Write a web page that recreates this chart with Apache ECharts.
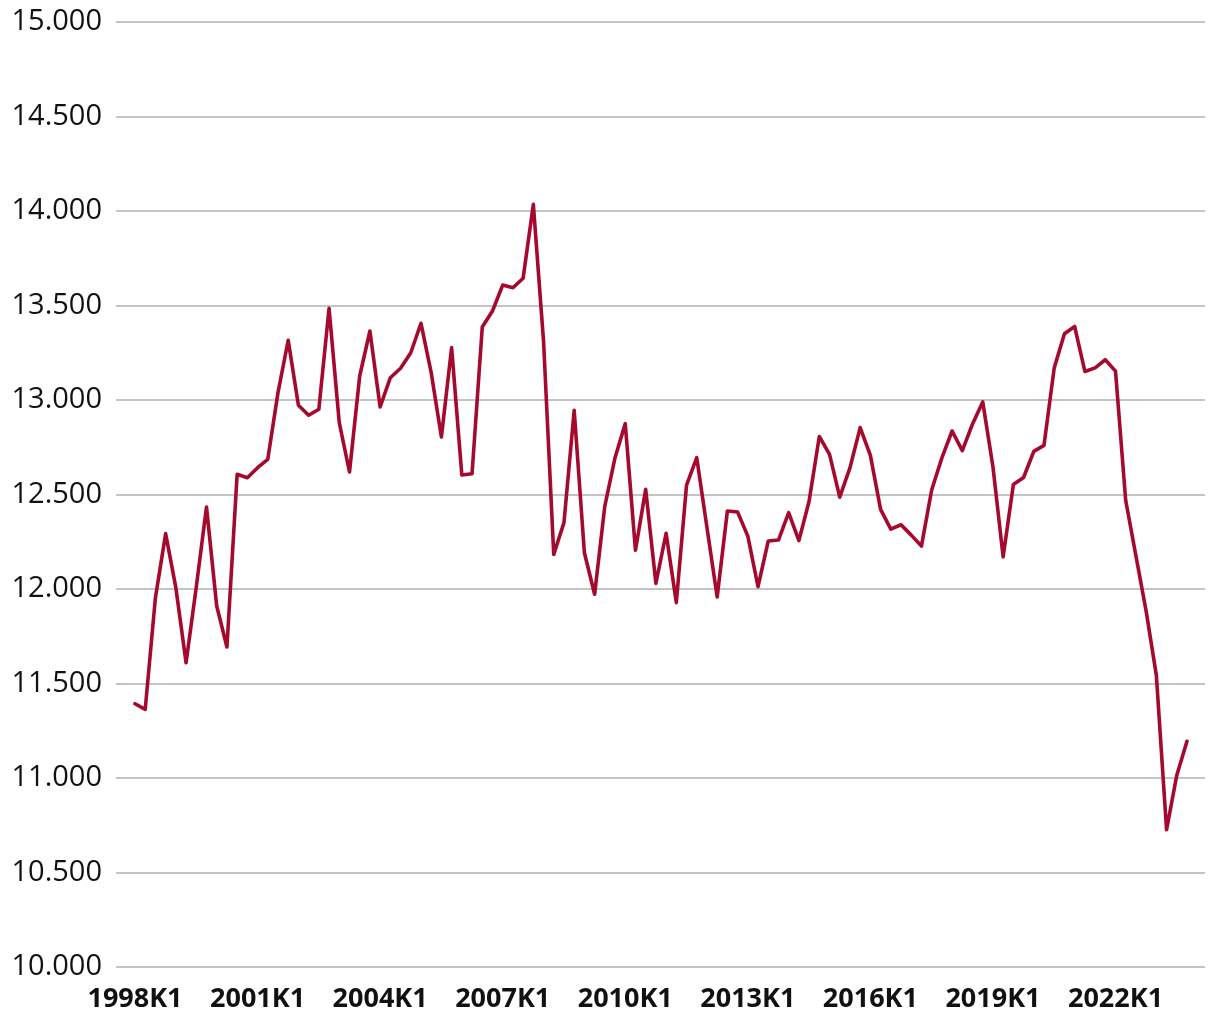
<!DOCTYPE html>
<html>
<head>
<meta charset="utf-8">
<script src="https://cdn.jsdelivr.net/npm/echarts@6/dist/echarts.min.js"></script>
<style>
html,body{margin:0;padding:0;background:#fff;}
#chart{width:1220px;height:1020px;}
</style>
</head>
<body>
<div id="chart"></div>
<script>
const categories = [
"1998K1","1998K2","1998K3","1998K4","1999K1","1999K2","1999K3","1999K4",
"2000K1","2000K2","2000K3","2000K4","2001K1","2001K2","2001K3","2001K4",
"2002K1","2002K2","2002K3","2002K4","2003K1","2003K2","2003K3","2003K4",
"2004K1","2004K2","2004K3","2004K4","2005K1","2005K2","2005K3","2005K4",
"2006K1","2006K2","2006K3","2006K4","2007K1","2007K2","2007K3","2007K4",
"2008K1","2008K2","2008K3","2008K4","2009K1","2009K2","2009K3","2009K4",
"2010K1","2010K2","2010K3","2010K4","2011K1","2011K2","2011K3","2011K4",
"2012K1","2012K2","2012K3","2012K4","2013K1","2013K2","2013K3","2013K4",
"2014K1","2014K2","2014K3","2014K4","2015K1","2015K2","2015K3","2015K4",
"2016K1","2016K2","2016K3","2016K4","2017K1","2017K2","2017K3","2017K4",
"2018K1","2018K2","2018K3","2018K4","2019K1","2019K2","2019K3","2019K4",
"2020K1","2020K2","2020K3","2020K4","2021K1","2021K2","2021K3","2021K4",
"2022K1","2022K2","2022K3","2022K4","2023K1","2023K2","2023K3","2023K4"
];
const values = [
11393,11363,11954,12293,12007,11610,12010,12434,
11910,11693,12607,12589,12642,12686,13039,13316,
12972,12919,12951,13485,12880,12619,13127,13365,
12963,13118,13168,13250,13406,13145,12804,13277,
12603,12610,13386,13471,13608,13594,13644,14035,
13312,12183,12351,12945,12192,11972,12439,12695,
12875,12205,12527,12030,12295,11928,12550,12695,
12325,11958,12413,12407,12280,12012,12254,12259,
12404,12256,12464,12807,12712,12486,12641,12854,
12707,12421,12317,12340,12285,12227,12524,12694,
12836,12732,12873,12990,12647,12170,12553,12590,
12728,12760,13170,13351,13389,13151,13170,13213,
13153,12468,12175,11883,11543,10726,11015,11194
];
const yTicks = [10000,10500,11000,11500,12000,12500,13000,13500,14000,14500,15000];

const fmt = v => String(v).replace(/\B(?=(\d{3})+(?!\d))/g, '.');
const chart = echarts.init(document.getElementById('chart'), null, {renderer:'canvas'});
const yMin = yTicks[0], yMax = yTicks[yTicks.length-1], yStep = yTicks[1]-yTicks[0];

chart.setOption({
  animation:false,
  backgroundColor:'#ffffff',
  grid:[
    {left:116, right:15, top:22, bottom:53},
    {left:135, right:33, top:22, bottom:53}
  ],
  xAxis:[
    {gridIndex:0, type:'value', min:0, max:1, show:false},
    {gridIndex:1, type:'category', data:categories, boundaryGap:false,
     axisLine:{show:false}, axisTick:{show:false},
     axisLabel:{interval:11, margin:19, color:'#111', fontFamily:'Open Sans', fontWeight:'bold', fontSize:27},
     splitLine:{show:false}}
  ],
  yAxis:[
    {gridIndex:0, type:'value', min:yMin, max:yMax, interval:yStep,
     axisLine:{show:false}, axisTick:{show:false},
     axisLabel:{margin:14, color:'#111', fontFamily:'Open Sans', fontSize:29, formatter:fmt},
     splitLine:{show:true, lineStyle:{color:'#c4c4c4', width:2}}},
    {gridIndex:1, type:'value', min:yMin, max:yMax, interval:yStep, show:false,
     splitLine:{show:false}}
  ],
  series:[{
    type:'line', xAxisIndex:1, yAxisIndex:1, data:values,
    showSymbol:false, symbol:'none',
    lineStyle:{color:'#a50a2e', width:3.6, join:'round', cap:'round'},
    itemStyle:{color:'#a50a2e'}
  }]
});
</script>
</body>
</html>
